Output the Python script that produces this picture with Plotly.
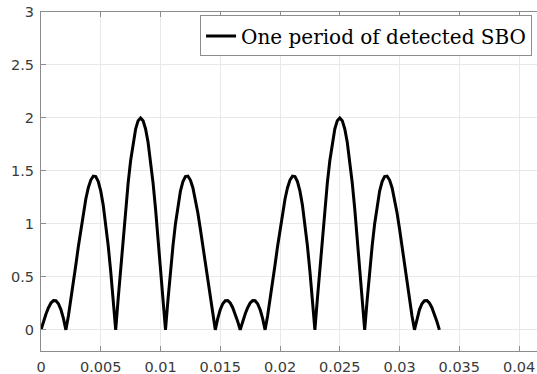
import plotly.graph_objects as go

# time samples (s)
t = [0, 0.000208, 0.000417, 0.000625, 0.000833, 0.001042, 0.00125, 0.001458, 0.001667, 0.001875,
     0.002083, 0.002292, 0.0025, 0.002708, 0.002917, 0.003125, 0.003333, 0.003542, 0.00375, 0.003958,
     0.004167, 0.004375, 0.004583, 0.004792, 0.005, 0.005208, 0.005417, 0.005625, 0.005833, 0.006042,
     0.00625, 0.006458, 0.006667, 0.006875, 0.007083, 0.007292, 0.0075, 0.007708, 0.007917, 0.008125,
     0.008333, 0.008542, 0.00875, 0.008958, 0.009167, 0.009375, 0.009583, 0.009792, 0.01, 0.010208,
     0.010417, 0.010625, 0.010833, 0.011042, 0.01125, 0.011458, 0.011667, 0.011875, 0.012083, 0.012292,
     0.0125, 0.012708, 0.012917, 0.013125, 0.013333, 0.013542, 0.01375, 0.013958, 0.014167, 0.014375,
     0.014583, 0.014792, 0.015, 0.015208, 0.015417, 0.015625, 0.015833, 0.016042, 0.01625, 0.016458,
     0.016667, 0.016875, 0.017083, 0.017292, 0.0175, 0.017708, 0.017917, 0.018125, 0.018333, 0.018542,
     0.01875, 0.018958, 0.019167, 0.019375, 0.019583, 0.019792, 0.02, 0.020208, 0.020417, 0.020625,
     0.020833, 0.021042, 0.02125, 0.021458, 0.021667, 0.021875, 0.022083, 0.022292, 0.0225, 0.022708,
     0.022917, 0.023125, 0.023333, 0.023542, 0.02375, 0.023958, 0.024167, 0.024375, 0.024583, 0.024792,
     0.025, 0.025208, 0.025417, 0.025625, 0.025833, 0.026042, 0.02625, 0.026458, 0.026667, 0.026875,
     0.027083, 0.027292, 0.0275, 0.027708, 0.027917, 0.028125, 0.028333, 0.028542, 0.02875, 0.028958,
     0.029167, 0.029375, 0.029583, 0.029792, 0.03, 0.030208, 0.030417, 0.030625, 0.030833, 0.031042,
     0.03125, 0.031458, 0.031667, 0.031875, 0.032083, 0.032292, 0.0325, 0.032708, 0.032917, 0.033125,
     0.033333]

# detected SBO magnitude
sbo = [0, 0.078, 0.149, 0.209, 0.253, 0.276, 0.274, 0.246, 0.191, 0.108,
       0, 0.131, 0.281, 0.444, 0.614, 0.786, 0.951, 1.103, 1.235, 1.341,
       1.414, 1.451, 1.446, 1.399, 1.309, 1.176, 1.002, 0.792, 0.551, 0.284,
       0, 0.294, 0.588, 0.874, 1.143, 1.387, 1.598, 1.770, 1.896, 1.974,
       2.0, 1.974, 1.896, 1.770, 1.598, 1.387, 1.143, 0.874, 0.588, 0.294,
       0, 0.284, 0.551, 0.792, 1.002, 1.176, 1.309, 1.399, 1.446, 1.451,
       1.414, 1.341, 1.235, 1.103, 0.951, 0.786, 0.614, 0.444, 0.281, 0.131,
       0, 0.108, 0.191, 0.246, 0.274, 0.276, 0.253, 0.209, 0.149, 0.078,
       0, 0.078, 0.149, 0.209, 0.253, 0.276, 0.274, 0.246, 0.191, 0.108,
       0, 0.131, 0.281, 0.444, 0.614, 0.786, 0.951, 1.103, 1.235, 1.341,
       1.414, 1.451, 1.446, 1.399, 1.309, 1.176, 1.002, 0.792, 0.551, 0.284,
       0, 0.294, 0.588, 0.874, 1.143, 1.387, 1.598, 1.770, 1.896, 1.974,
       2.0, 1.974, 1.896, 1.770, 1.598, 1.387, 1.143, 0.874, 0.588, 0.294,
       0, 0.284, 0.551, 0.792, 1.002, 1.176, 1.309, 1.399, 1.446, 1.451,
       1.414, 1.341, 1.235, 1.103, 0.951, 0.786, 0.614, 0.444, 0.281, 0.131,
       0, 0.108, 0.191, 0.246, 0.274, 0.276, 0.253, 0.209, 0.149, 0.078,
       0]

x_ticks = [0, 0.005, 0.01, 0.015, 0.02, 0.025, 0.03, 0.035, 0.04]
x_tick_text = ["0", "0.005", "0.01", "0.015", "0.02", "0.025", "0.03", "0.035", "0.04"]
y_ticks = [0, 0.5, 1, 1.5, 2, 2.5, 3]
y_tick_text = ["0", "0.5", "1", "1.5", "2", "2.5", "3"]

fig = go.Figure()
fig.add_trace(go.Scatter(
    x=t, y=sbo, mode="lines",
    line=dict(color="black", width=3),
    name="One period of detected SBO",
))

axis_common = dict(
    showgrid=True, gridcolor="#e8e8e8", gridwidth=1,
    zeroline=False, showline=True, linecolor="#8c8c8c", linewidth=1,
    ticks="inside", ticklen=5, tickcolor="#8c8c8c",
    tickfont=dict(family="DejaVu Sans", size=14.5, color="#3a3a3a"),
)

fig.update_layout(
    width=537, height=374,
    margin=dict(l=41, r=0, t=12, b=23),
    paper_bgcolor="white", plot_bgcolor="white",
    showlegend=True,
    legend=dict(
        x=0.99, y=0.99, xanchor="right", yanchor="top",
        bgcolor="white", bordercolor="#8c8c8c", borderwidth=1,
        font=dict(family="DejaVu Serif", size=20, color="black"),
        tracegroupgap=0, itemwidth=30,
    ),
)
fig.update_xaxes(range=[0, 0.0415], tickvals=x_ticks, ticktext=x_tick_text,
                 mirror="ticks", ticklabelstandoff=3, **axis_common)
fig.update_yaxes(range=[-0.2, 3], tickvals=y_ticks, ticktext=y_tick_text,
                 mirror=False, ticklabelstandoff=3, **axis_common)

fig.write_html("out.html")
